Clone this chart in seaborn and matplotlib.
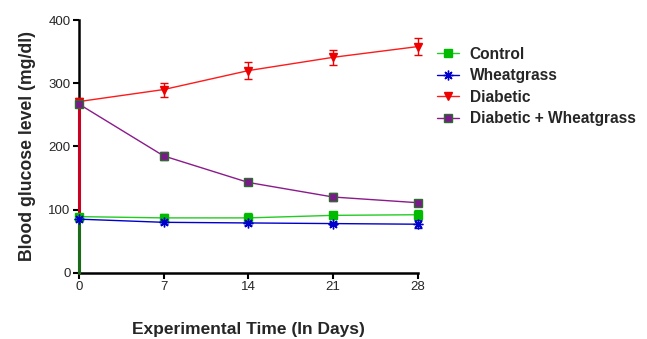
import numpy as np
import pandas as pd
import matplotlib
matplotlib.use("Agg")
import matplotlib.pyplot as plt
import seaborn as sns

# data
days = [0, 7, 14, 21, 28]
control = [89, 87, 87, 91, 92]
control_err = [4, 6, 7, 6, 7]
wheatgrass = [85, 80, 79, 78, 77]
wheatgrass_err = [2, 3, 3, 3, 6]
diabetic = [271, 290, 320, 341, 358]
diabetic_err = [6, 11, 14, 12, 14]
diab_wheat = [267, 185, 143, 120, 111]
diab_wheat_err = [3, 6, 4, 6, 5]

groups = ["Control", "Wheatgrass", "Diabetic", "Diabetic + Wheatgrass"]
values = [control, wheatgrass, diabetic, diab_wheat]
errors = [control_err, wheatgrass_err, diabetic_err, diab_wheat_err]

colors = {"Control": "#22cc22", "Wheatgrass": "#0000cc",
          "Diabetic": "#ff1a1a", "Diabetic + Wheatgrass": "#8b1a8b"}
marker_col = {"Control": "#00bb00", "Wheatgrass": "#0000cc",
              "Diabetic": "#ee0000", "Diabetic + Wheatgrass": "#7a1a8a"}
marker_edge = {"Control": "#00bb00", "Wheatgrass": "#0000cc",
               "Diabetic": "#ee0000", "Diabetic + Wheatgrass": "#2e6b2e"}
asterisk = (8, 2, 0)
markers = {"Control": "s", "Wheatgrass": "*", "Diabetic": "v",
           "Diabetic + Wheatgrass": "s"}

df = pd.DataFrame({
    "day": days * len(groups),
    "glucose": sum(values, []),
    "group": np.repeat(groups, len(days)),
})

sns.set_style("ticks")
plt.rcParams["font.family"] = ["Liberation Sans", "DejaVu Sans"]

fig = plt.figure(figsize=(6.47, 3.39), dpi=100)
ax = fig.add_axes([0.122, 0.195, 0.524, 0.746])

# GraphPad-style quirk: lines run down the y axis from first point
ax.plot([days[0], days[0]], [0, diabetic[0]], color="#cc0022", lw=2.2,
        zorder=3, clip_on=False)
ax.plot([days[0], days[0]], [0, control[0]], color="#1a6b1a", lw=2.2,
        zorder=3, clip_on=False)

for g, v, e in zip(groups, values, errors):
    ax.errorbar(days, v, yerr=e, fmt="none", ecolor=marker_col[g],
                elinewidth=1, capsize=3, capthick=1, zorder=4, clip_on=False)

n_before = len(ax.lines)
sns.lineplot(data=df, x="day", y="glucose", hue="group", style="group",
             hue_order=groups, style_order=groups,
             palette=colors, markers=markers, dashes=False, lw=1,
             markersize=5.5, ax=ax, zorder=5, legend=False)

# recolour markers per group
for line, g in zip(ax.lines[n_before:], groups):
    line.set_clip_on(False)
    line.set_markerfacecolor(marker_col[g])
    line.set_markeredgecolor(marker_edge[g])
    line.set_markeredgewidth(1)
    if g == "Wheatgrass":
        line.set_marker(asterisk)
        line.set_markersize(7)

handles = [plt.Line2D([], [], color=colors[g],
                      marker=asterisk if g == "Wheatgrass" else markers[g], lw=1,
                      markerfacecolor=marker_col[g], markeredgecolor=marker_edge[g],
                      markeredgewidth=1,
                      markersize=5.5 if g != "Wheatgrass" else 7)
           for g in groups]
ax.legend(handles, groups, loc="upper left", bbox_to_anchor=(1.056, 0.895),
          frameon=False, prop={"weight": "bold", "size": 11.2},
          handlelength=1.4, handletextpad=0.7, labelspacing=0.42,
          borderaxespad=0, borderpad=0)

ax.set_xlim(0, 28)
ax.set_ylim(0, 400)
ax.set_xticks(days)
ax.set_yticks([0, 100, 200, 300, 400])
ax.tick_params(labelsize=9.5, width=1.5, length=4, color="black", pad=2)
ax.set_xlabel("Experimental Time (In Days)", fontsize=12.5, fontweight="bold",
              labelpad=21)
ax.set_ylabel("Blood glucose level (mg/dl)", fontsize=12.7, fontweight="bold",
              labelpad=9)
for side in ["left", "bottom"]:
    ax.spines[side].set_linewidth(1.8)
    ax.spines[side].set_color("black")
sns.despine(ax=ax)
for sp in ax.spines.values():
    sp.set_clip_on(False)

fig.savefig("out.png", dpi=100)
